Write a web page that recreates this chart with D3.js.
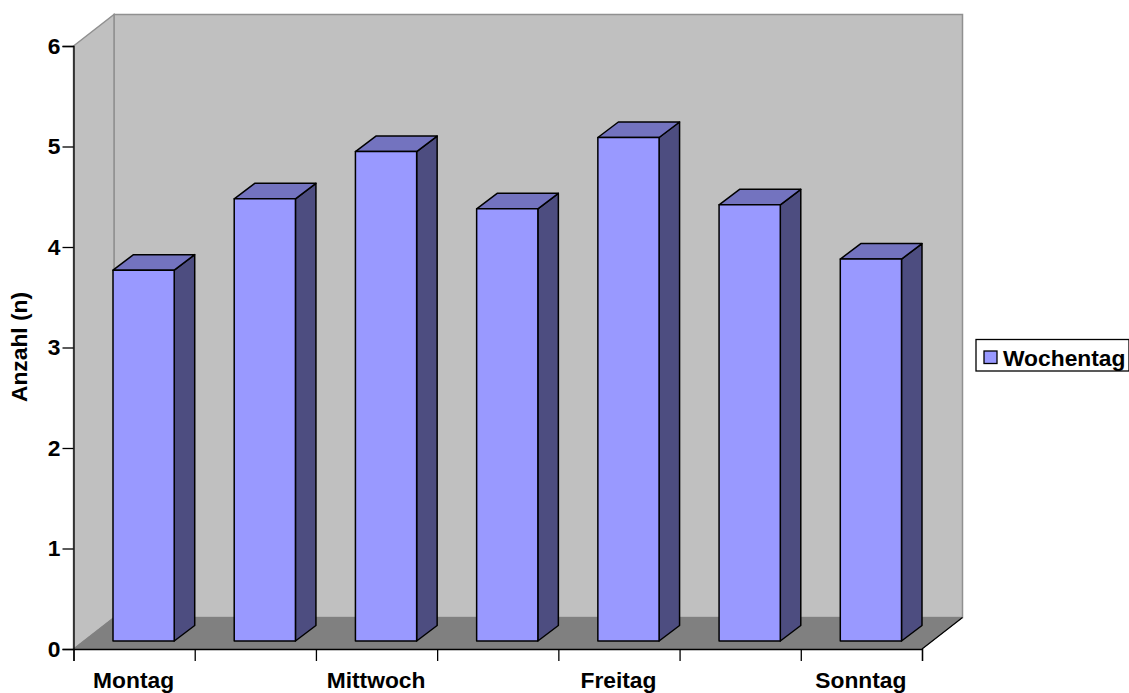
<!DOCTYPE html>
<html>
<head>
<meta charset="utf-8">
<script src="https://cdn.jsdelivr.net/npm/d3@7/dist/d3.min.js"></script>
<style>
html,body{margin:0;padding:0;background:#fff}
svg{display:block}
text{font-family:"Liberation Sans",Arial,sans-serif;font-weight:bold;fill:#000}
</style>
</head>
<body>
<svg id="chart" width="1129" height="693"></svg>
<script>
const categories = ["Montag","Dienstag","Mittwoch","Donnerstag","Freitag","Samstag","Sonntag"];
const tickLabels = ["Montag","Mittwoch","Freitag","Sonntag"];
const values = [3.69,4.40,4.87,4.30,5.01,4.34,3.80];
const yTicks = [0,1,2,3,4,5,6];
const seriesName = "Wochentag";
const yTitle = "Anzahl (n)";

const svg = d3.select("#chart");
const x = d3.scaleBand().domain(categories).range([73.5,922]);
const y = d3.scaleLinear().domain([0,6]).range([649,46]);

// oblique projection: wall depth and bar depth
const depth = {dx:40.5, dy:-31.5};
const barDepth = {dx:20.5, dy:-15.5};
const barOffset = {dx:9.5, dy:-8};
const line = pts => "M" + pts.map(p=>p.join(",")).join("L") + "Z";

const x0 = x.range()[0], x1 = x.range()[1], y0 = y(0), y6 = y(6);
const fontSize = 22.8;

// back wall
svg.append("path")
  .attr("d", line([[x0+depth.dx,y6+depth.dy],[x1+depth.dx,y6+depth.dy],[x1+depth.dx,y0+depth.dy],[x0+depth.dx,y0+depth.dy]]))
  .attr("fill","#c0c0c0").attr("stroke","#909090").attr("stroke-width",1.5);
// side wall
svg.append("path")
  .attr("d", line([[x0,y6],[x0+depth.dx,y6+depth.dy],[x0+depth.dx,y0+depth.dy],[x0,y0]]))
  .attr("fill","#c0c0c0").attr("stroke","#909090").attr("stroke-width",1.5);
// floor
svg.append("path")
  .attr("d", line([[x0,y0],[x0+depth.dx,y0+depth.dy],[x1+depth.dx,y0+depth.dy],[x1,y0]]))
  .attr("fill","#808080").attr("stroke","#808080").attr("stroke-width",1);
svg.append("line")
  .attr("x1",x1).attr("y1",y0).attr("x2",x1+depth.dx).attr("y2",y0+depth.dy)
  .attr("stroke","#000").attr("stroke-width",1.2);

// bars
const barW = x.bandwidth()*0.505;
const bars = svg.append("g").selectAll("g").data(categories.map((c,i)=>({c,v:values[i]}))).join("g")
  .attr("stroke","#000").attr("stroke-width",1.5).attr("stroke-linejoin","round");
const left = d => x(d.c)+(x.bandwidth()-barW)/2+barOffset.dx;
const top_ = d => y(d.v)+barOffset.dy;
const base = () => y(0)+barOffset.dy;
bars.append("path").attr("fill","#4d4d80").attr("d",d=>line([
  [left(d)+barW,top_(d)],[left(d)+barW+barDepth.dx,top_(d)+barDepth.dy],
  [left(d)+barW+barDepth.dx,base()+barDepth.dy],[left(d)+barW,base()]]));
bars.append("path").attr("fill","#7373bf").attr("d",d=>line([
  [left(d),top_(d)],[left(d)+barDepth.dx,top_(d)+barDepth.dy],
  [left(d)+barW+barDepth.dx,top_(d)+barDepth.dy],[left(d)+barW,top_(d)]]));
bars.append("rect").attr("fill","#9999ff")
  .attr("x",left).attr("y",top_).attr("width",barW).attr("height",d=>base()-top_(d));

// y axis
const yAxis = svg.append("g").attr("transform",`translate(${x0},0)`)
  .call(d3.axisLeft(y).tickValues(yTicks).tickFormat(d3.format("d")).tickSize(11).tickPadding(2));
// x axis: ticks on category boundaries
const boundaries = categories.map(c=>x(c)).concat(x1);
const xAxisScale = d3.scaleLinear().domain([0,categories.length]).range([x0,x1]);
const xAxis = svg.append("g").attr("transform",`translate(0,${y0})`)
  .call(d3.axisBottom(xAxisScale).tickValues(d3.range(boundaries.length)).tickFormat("").tickSize(12));
[yAxis,xAxis].forEach(g=>{
  g.selectAll("path,line").attr("stroke","#000").attr("stroke-width",1.3);
});
yAxis.selectAll("text").attr("font-size",fontSize).attr("font-family",null).style("font-family",'"Liberation Sans",Arial,sans-serif');

svg.append("g").selectAll("text").data(tickLabels).join("text")
  .attr("x",d=>x(d)+x.bandwidth()/2-0.5).attr("y",688).attr("text-anchor","middle")
  .attr("font-size",fontSize).text(d=>d);

// y title
svg.append("text").attr("transform","translate(27,347) rotate(-90)")
  .attr("text-anchor","middle").attr("font-size",fontSize).text(yTitle);

// legend
const lg = svg.append("g");
lg.append("rect").attr("x",976).attr("y",339.5).attr("width",153).attr("height",31.5)
  .attr("fill","#fff").attr("stroke","#000").attr("stroke-width",1.3);
lg.append("rect").attr("x",984).attr("y",351).attr("width",13).attr("height",12.5)
  .attr("fill","#9999ff").attr("stroke","#000").attr("stroke-width",1.3);
lg.append("text").attr("x",1003).attr("y",366).attr("font-size",fontSize).text(seriesName);
</script>
</body>
</html>
